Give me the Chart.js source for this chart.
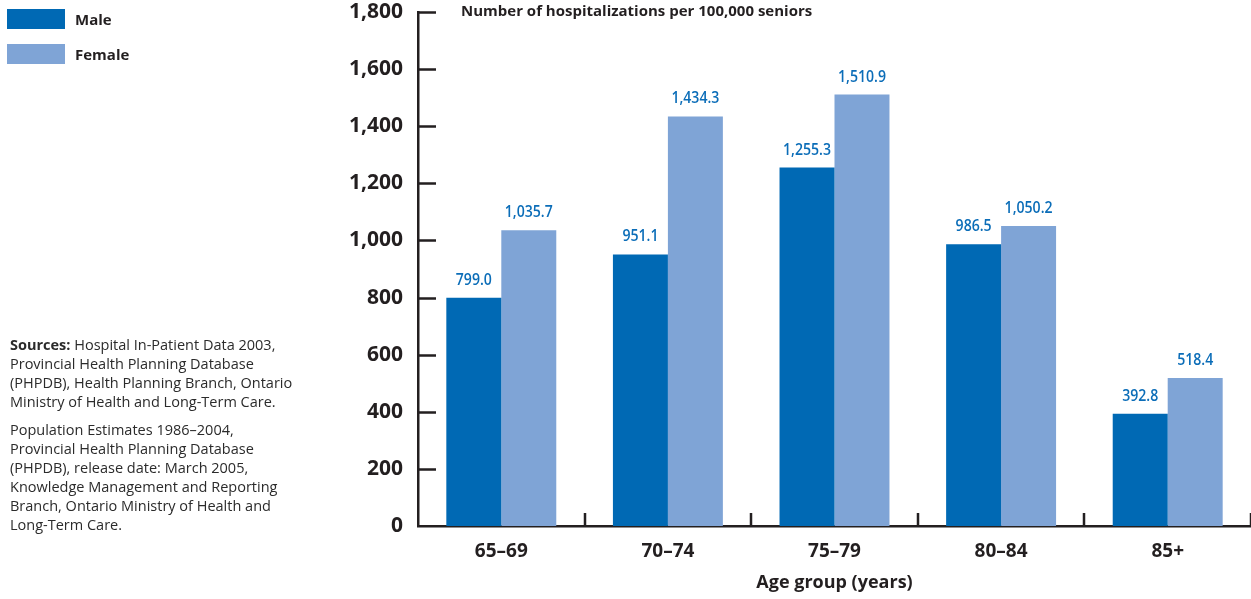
<!DOCTYPE html>
<html>
<head>
<meta charset="utf-8">
<script src="https://cdn.jsdelivr.net/npm/chart.js@4/dist/chart.umd.min.js"></script>
<style>
  html, body { margin: 0; padding: 0; background: #ffffff; }
  body { width: 1251px; height: 599px; position: relative; overflow: hidden; font-family: "Open Sans", "Noto Sans", sans-serif; color: #231f20; }
  #wrap { position: absolute; left: 0; top: 0; width: 1251px; height: 599px; }
  #legend { position: absolute; left: 7px; top: 9px; }
  .item { position: relative; height: 35px; }
  .swatch { position: absolute; left: 0; top: 0; width: 58px; height: 20px; }
  .lbl { position: absolute; left: 68px; top: 0px; font-weight: 700; font-size: 15px; line-height: 20px; }
  #ytitle { position: absolute; left: 461px; top: 0px; font-weight: 700; font-size: 15px; line-height: 20px; white-space: nowrap; }
  #sources { position: absolute; left: 10px; top: 335px; font-size: 14.5px; line-height: 19px; color: #2b2b2b; }
  #sources p { margin: 0 0 9px 0; white-space: nowrap; }
</style>
</head>
<body>
<div id="wrap"><canvas id="chart" width="1251" height="599"></canvas></div>
<div id="legend"></div>
<div id="ytitle">Number of hospitalizations per 100,000 seniors</div>
<div id="sources">
  <p><b>Sources:</b> Hospital In-Patient Data 2003,<br>Provincial Health Planning Database<br>(PHPDB), Health Planning Branch, Ontario<br>Ministry of Health and Long-Term Care.</p>
  <p>Population Estimates 1986–2004,<br>Provincial Health Planning Database<br>(PHPDB), release date: March 2005,<br>Knowledge Management and Reporting<br>Branch, Ontario Ministry of Health and<br>Long-Term Care.</p>
</div>
<script>
// Age groups and hospitalization rates per 100,000 seniors
const ageGroups = ['65–69', '70–74', '75–79', '80–84', '85+'];
const maleRates = [799.0, 951.1, 1255.3, 986.5, 392.8];
const femaleRates = [1035.7, 1434.3, 1510.9, 1050.2, 518.4];
const seriesNames = ['Male', 'Female'];
const yTickValues = [0, 200, 400, 600, 800, 1000, 1200, 1400, 1600, 1800];

const INK = '#231f20';
const MALE_COLOR = '#0069b4';
const FEMALE_COLOR = '#7fa4d6';
const VALUE_COLOR = '#0b6db8';

// Legend built from the series
const legendEl = document.getElementById('legend');
[[seriesNames[0], MALE_COLOR], [seriesNames[1], FEMALE_COLOR]].forEach(([name, col]) => {
  const item = document.createElement('div');
  item.className = 'item';
  item.innerHTML = '<div class="swatch" style="background:' + col + '"></div><div class="lbl">' + name + '</div>';
  legendEl.appendChild(item);
});

const fmt = v => v.toLocaleString('en-US', { minimumFractionDigits: 1, maximumFractionDigits: 1 });

// Inward-pointing axis ticks: right of the y axis, upward between categories
const axisTicks = {
  id: 'axisTicks',
  afterDraw(chart) {
    const { ctx, chartArea, scales } = chart;
    ctx.save();
    ctx.strokeStyle = INK;
    ctx.lineWidth = 2.5;
    ctx.beginPath();
    yTickValues.forEach(v => {
      if (v === 0) return;
      const y = Math.round(scales.y.getPixelForValue(v)) + 0.5;
      ctx.moveTo(chartArea.left, y);
      ctx.lineTo(chartArea.left + 18, y);
    });
    for (let i = 0; i < ageGroups.length; i++) {
      const x = Math.round(scales.x.getPixelForValue(i + 0.5));
      ctx.moveTo(x, chartArea.bottom);
      ctx.lineTo(x, chartArea.bottom - 13);
    }
    ctx.stroke();
    ctx.restore();
  }
};

// Value labels above each bar
const valueLabels = {
  id: 'valueLabels',
  afterDatasetsDraw(chart) {
    const { ctx } = chart;
    ctx.save();
    ctx.fillStyle = VALUE_COLOR;
    ctx.font = '600 16px "Open Sans", "Noto Sans", sans-serif';
    ctx.textAlign = 'center';
    ctx.textBaseline = 'alphabetic';
    chart.data.datasets.forEach((ds, di) => {
      chart.getDatasetMeta(di).data.forEach((bar, i) => {
        ctx.save();
        ctx.translate(bar.x, bar.y - 13);
        ctx.scale(0.88, 1);
        ctx.fillText(fmt(ds.data[i]), 0, 0);
        ctx.restore();
      });
    });
    ctx.restore();
  }
};

new Chart(document.getElementById('chart'), {
  type: 'bar',
  data: {
    labels: ageGroups,
    datasets: [
      { label: seriesNames[0], data: maleRates, backgroundColor: MALE_COLOR },
      { label: seriesNames[1], data: femaleRates, backgroundColor: FEMALE_COLOR }
    ]
  },
  options: {
    responsive: false,
    animation: false,
    devicePixelRatio: 1,
    layout: { padding: { top: 12, right: 0, bottom: 0, left: 0 } },
    datasets: { bar: { categoryPercentage: 0.66, barPercentage: 1.0 } },
    plugins: { legend: { display: false }, tooltip: { enabled: false } },
    scales: {
      x: {
        grid: { display: false, drawTicks: false },
        border: { display: true, color: INK, width: 2.5 },
        ticks: { color: INK, padding: 14, font: { family: '"Open Sans", "Noto Sans", sans-serif', size: 19, weight: 'bold' } },
        title: { display: true, text: 'Age group (years)', color: INK, padding: { top: 0, bottom: 5 }, font: { family: '"Open Sans", "Noto Sans", sans-serif', size: 18, weight: 'bold' } },
        afterFit(scale) { scale.height = 73; scale.paddingLeft = 0; scale.paddingRight = 0; }
      },
      y: {
        min: 0, max: 1800,
        afterBuildTicks(scale) { scale.ticks = yTickValues.map(v => ({ value: v })); },
        grid: { display: false, drawTicks: false },
        border: { display: true, color: INK, width: 2.5 },
        ticks: {
          color: INK, padding: 15,
          font: { family: '"Open Sans", "Noto Sans", sans-serif', size: 21, weight: 'bold' },
          callback: v => v.toLocaleString('en-US')
        },
        afterFit(scale) { scale.width = 418; scale.paddingTop = 0; scale.paddingBottom = 0; }
      }
    }
  },
  plugins: [axisTicks, valueLabels]
});
</script>
</body>
</html>
